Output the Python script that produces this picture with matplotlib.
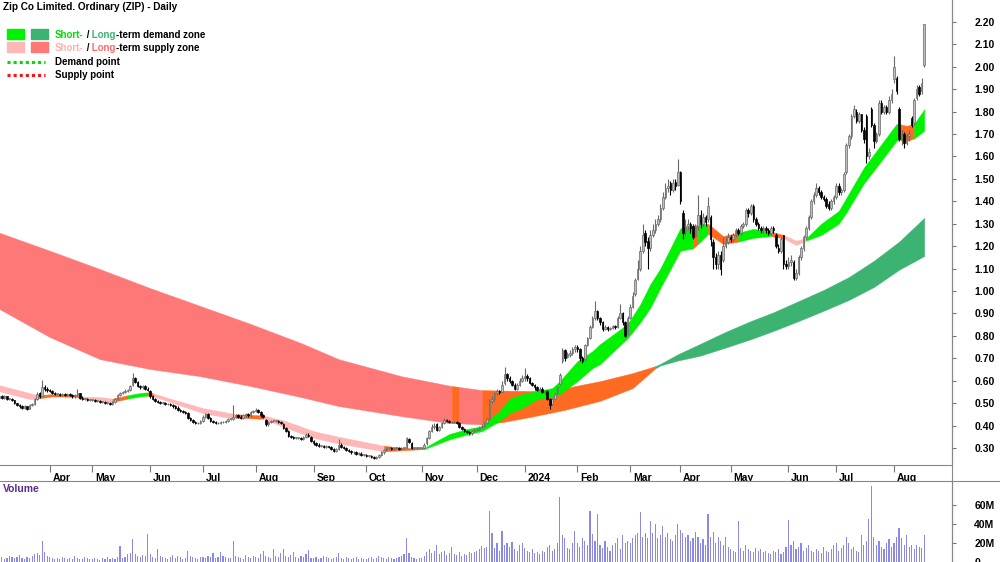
import numpy as np
import pandas as pd
import matplotlib
matplotlib.use('Agg')
import matplotlib.pyplot as plt
import matplotlib.transforms as mtransforms
from matplotlib.patches import Rectangle
from matplotlib.lines import Line2D

plt.rcParams['font.family'] = ['Liberation Sans', 'DejaVu Sans']
plt.rcParams['font.weight'] = 'bold'

# ASX trading days shown on the chart
holidays = ['2023-04-07', '2023-04-10', '2023-04-25', '2023-06-12', '2023-12-25', '2023-12-26',
            '2024-01-01', '2024-01-26', '2024-03-29', '2024-04-01', '2024-04-25', '2024-06-10']
dates = pd.bdate_range('2023-03-06', '2024-08-19', freq='C', holidays=holidays)

# daily prices, one row per month (Mar 2023 ... Aug 2024)
opens = [
    0.525, 0.530, 0.525, 0.530, 0.520, 0.520, 0.515, 0.500, 0.490, 0.485, 0.480, 0.485, 0.475, 0.490, 0.495, 0.520, 0.545, 0.530, 0.570, 0.565,
    0.560, 0.555, 0.545, 0.540, 0.540, 0.535, 0.540, 0.535, 0.540, 0.535, 0.530, 0.535, 0.545, 0.525, 0.520, 0.520, 0.515,
    0.515, 0.515, 0.510, 0.510, 0.505, 0.505, 0.500, 0.500, 0.495, 0.505, 0.520, 0.535, 0.545, 0.550, 0.555, 0.560, 0.580, 0.610, 0.595, 0.575, 0.570, 0.575, 0.565,
    0.555, 0.530, 0.520, 0.510, 0.505, 0.500, 0.500, 0.495, 0.495, 0.490, 0.485, 0.480, 0.470, 0.465, 0.460, 0.455, 0.435, 0.425, 0.415, 0.410, 0.410,
    0.420, 0.440, 0.450, 0.435, 0.420, 0.415, 0.410, 0.410, 0.415, 0.415, 0.420, 0.430, 0.430, 0.440, 0.445, 0.440, 0.435, 0.445, 0.450, 0.445, 0.460,
    0.465, 0.470, 0.460, 0.445, 0.425, 0.405, 0.415, 0.420, 0.420, 0.420, 0.415, 0.405, 0.390, 0.375, 0.355, 0.350, 0.345, 0.345, 0.345, 0.340, 0.350, 0.360, 0.350,
    0.330, 0.320, 0.315, 0.310, 0.310, 0.305, 0.310, 0.305, 0.295, 0.285, 0.295, 0.315, 0.305, 0.300, 0.290, 0.285, 0.280, 0.280, 0.275, 0.275, 0.270,
    0.270, 0.265, 0.265, 0.260, 0.255, 0.260, 0.270, 0.280, 0.290, 0.300, 0.300, 0.295, 0.300, 0.300, 0.295, 0.300, 0.300, 0.340, 0.320, 0.300, 0.300, 0.300,
    0.300, 0.300, 0.320, 0.345, 0.375, 0.395, 0.405, 0.380, 0.395, 0.410, 0.425, 0.420, 0.415, 0.415, 0.415, 0.410, 0.395, 0.385, 0.375, 0.370, 0.365, 0.375,
    0.380, 0.385, 0.395, 0.400, 0.410, 0.430, 0.510, 0.520, 0.545, 0.555, 0.550, 0.590, 0.630, 0.610, 0.600, 0.580, 0.565, 0.580, 0.600,
    0.610, 0.620, 0.610, 0.590, 0.580, 0.570, 0.560, 0.565, 0.550, 0.555, 0.520, 0.495, 0.520, 0.545, 0.585, 0.690, 0.735, 0.705, 0.715, 0.725, 0.740,
    0.750, 0.740, 0.700, 0.695, 0.760, 0.790, 0.840, 0.880, 0.910, 0.880, 0.860, 0.830, 0.840, 0.830, 0.835, 0.845, 0.840, 0.880, 0.900, 0.860, 0.810,
    0.880, 0.930, 0.985, 1.055, 1.100, 1.180, 1.260, 1.225, 1.190, 1.250, 1.270, 1.300, 1.320, 1.370, 1.420, 1.460, 1.480, 1.450, 1.485, 1.475,
    1.530, 1.350, 1.265, 1.290, 1.300, 1.290, 1.245, 1.290, 1.340, 1.300, 1.330, 1.320, 1.330, 1.220, 1.150, 1.120, 1.160, 1.140, 1.200, 1.220,
    1.240, 1.230, 1.250, 1.270, 1.260, 1.290, 1.300, 1.360, 1.350, 1.380, 1.320, 1.300, 1.280, 1.270, 1.280, 1.270, 1.260, 1.280, 1.250, 1.190, 1.180, 1.250, 1.120,
    1.110, 1.130, 1.130, 1.060, 1.080, 1.150, 1.190, 1.240, 1.280, 1.330, 1.400, 1.430, 1.460, 1.440, 1.420, 1.410, 1.390, 1.370, 1.400,
    1.420, 1.470, 1.440, 1.450, 1.530, 1.650, 1.690, 1.780, 1.800, 1.760, 1.790, 1.720, 1.780, 1.600, 1.810, 1.740, 1.670, 1.700, 1.840, 1.800, 1.820, 1.800, 1.850,
    1.945, 1.950, 1.810, 1.680, 1.700, 1.660, 1.690, 1.770, 1.750, 1.860, 1.910, 1.890, 2.010,
]
highs = [
    0.535, 0.535, 0.535, 0.530, 0.525, 0.525, 0.515, 0.500, 0.495, 0.490, 0.490, 0.485, 0.495, 0.500, 0.525, 0.550, 0.550, 0.605, 0.580, 0.570,
    0.565, 0.560, 0.550, 0.545, 0.545, 0.545, 0.545, 0.545, 0.545, 0.540, 0.540, 0.565, 0.545, 0.530, 0.525, 0.525, 0.520,
    0.520, 0.520, 0.515, 0.515, 0.510, 0.510, 0.505, 0.505, 0.510, 0.525, 0.540, 0.550, 0.555, 0.565, 0.565, 0.580, 0.635, 0.615, 0.600, 0.580, 0.580, 0.580, 0.570,
    0.560, 0.535, 0.525, 0.515, 0.510, 0.505, 0.505, 0.500, 0.500, 0.495, 0.490, 0.485, 0.475, 0.470, 0.465, 0.460, 0.440, 0.430, 0.420, 0.415, 0.425,
    0.445, 0.455, 0.455, 0.440, 0.425, 0.420, 0.415, 0.420, 0.420, 0.425, 0.435, 0.435, 0.490, 0.450, 0.450, 0.445, 0.450, 0.455, 0.455, 0.465, 0.470,
    0.480, 0.475, 0.465, 0.450, 0.430, 0.420, 0.425, 0.425, 0.425, 0.425, 0.420, 0.410, 0.395, 0.380, 0.360, 0.355, 0.350, 0.350, 0.350, 0.355, 0.365, 0.365, 0.355,
    0.335, 0.325, 0.320, 0.315, 0.315, 0.315, 0.310, 0.310, 0.300, 0.300, 0.340, 0.320, 0.310, 0.305, 0.295, 0.290, 0.285, 0.285, 0.280, 0.280, 0.275,
    0.275, 0.270, 0.270, 0.265, 0.265, 0.275, 0.285, 0.295, 0.305, 0.305, 0.305, 0.305, 0.305, 0.305, 0.305, 0.305, 0.350, 0.345, 0.325, 0.305, 0.305, 0.305,
    0.305, 0.320, 0.350, 0.380, 0.405, 0.410, 0.410, 0.400, 0.415, 0.435, 0.430, 0.425, 0.420, 0.420, 0.420, 0.415, 0.400, 0.390, 0.380, 0.375, 0.380, 0.390,
    0.390, 0.400, 0.405, 0.415, 0.435, 0.520, 0.530, 0.550, 0.565, 0.560, 0.600, 0.660, 0.635, 0.620, 0.605, 0.590, 0.590, 0.610, 0.625,
    0.655, 0.630, 0.615, 0.595, 0.585, 0.575, 0.570, 0.570, 0.560, 0.560, 0.525, 0.525, 0.545, 0.575, 0.635, 0.745, 0.740, 0.730, 0.735, 0.750, 0.760,
    0.760, 0.745, 0.710, 0.765, 0.795, 0.850, 0.890, 0.955, 0.915, 0.885, 0.865, 0.850, 0.845, 0.840, 0.850, 0.850, 0.890, 0.940, 0.905, 0.865, 0.890,
    0.940, 0.995, 1.060, 1.140, 1.200, 1.300, 1.270, 1.240, 1.270, 1.300, 1.320, 1.340, 1.390, 1.440, 1.480, 1.500, 1.490, 1.500, 1.500, 1.590,
    1.535, 1.360, 1.320, 1.320, 1.310, 1.300, 1.300, 1.430, 1.360, 1.350, 1.340, 1.420, 1.340, 1.230, 1.170, 1.180, 1.180, 1.240, 1.240, 1.260,
    1.250, 1.260, 1.280, 1.280, 1.300, 1.310, 1.370, 1.370, 1.390, 1.390, 1.330, 1.310, 1.290, 1.290, 1.290, 1.280, 1.290, 1.290, 1.260, 1.210, 1.240, 1.250, 1.140,
    1.150, 1.160, 1.140, 1.100, 1.160, 1.200, 1.250, 1.290, 1.340, 1.410, 1.440, 1.480, 1.470, 1.450, 1.430, 1.420, 1.400, 1.410, 1.430,
    1.480, 1.480, 1.460, 1.530, 1.660, 1.700, 1.790, 1.830, 1.810, 1.800, 1.790, 1.730, 1.790, 1.640, 1.820, 1.750, 1.710, 1.850, 1.850, 1.830, 1.830, 1.870, 1.900,
    2.050, 1.960, 1.820, 1.720, 1.710, 1.700, 1.720, 1.780, 1.860, 1.920, 1.920, 1.950, 2.190,
]
lows = [
    0.520, 0.520, 0.520, 0.515, 0.515, 0.510, 0.495, 0.485, 0.480, 0.475, 0.475, 0.470, 0.475, 0.485, 0.490, 0.515, 0.525, 0.530, 0.555, 0.550,
    0.550, 0.540, 0.535, 0.535, 0.530, 0.530, 0.530, 0.530, 0.530, 0.525, 0.525, 0.530, 0.520, 0.515, 0.515, 0.510, 0.510,
    0.510, 0.505, 0.505, 0.500, 0.500, 0.495, 0.495, 0.490, 0.490, 0.500, 0.515, 0.530, 0.540, 0.545, 0.550, 0.555, 0.575, 0.590, 0.570, 0.565, 0.565, 0.560, 0.555,
    0.525, 0.515, 0.505, 0.500, 0.495, 0.495, 0.490, 0.490, 0.485, 0.480, 0.475, 0.465, 0.460, 0.455, 0.450, 0.430, 0.420, 0.410, 0.405, 0.405, 0.405,
    0.415, 0.435, 0.430, 0.415, 0.410, 0.405, 0.405, 0.405, 0.410, 0.410, 0.415, 0.425, 0.425, 0.435, 0.435, 0.430, 0.430, 0.440, 0.440, 0.440, 0.455,
    0.460, 0.455, 0.440, 0.435, 0.400, 0.400, 0.410, 0.415, 0.415, 0.410, 0.405, 0.385, 0.370, 0.350, 0.345, 0.340, 0.340, 0.340, 0.335, 0.335, 0.345, 0.350, 0.325,
    0.315, 0.310, 0.305, 0.305, 0.300, 0.300, 0.300, 0.290, 0.280, 0.280, 0.290, 0.300, 0.295, 0.285, 0.280, 0.275, 0.275, 0.270, 0.270, 0.265, 0.265,
    0.260, 0.260, 0.255, 0.250, 0.250, 0.255, 0.265, 0.275, 0.285, 0.295, 0.290, 0.290, 0.295, 0.290, 0.290, 0.295, 0.300, 0.320, 0.295, 0.295, 0.295, 0.295,
    0.295, 0.295, 0.315, 0.340, 0.370, 0.385, 0.375, 0.375, 0.390, 0.405, 0.415, 0.410, 0.410, 0.410, 0.405, 0.390, 0.380, 0.370, 0.365, 0.360, 0.360, 0.370,
    0.375, 0.380, 0.390, 0.395, 0.405, 0.425, 0.500, 0.510, 0.535, 0.540, 0.545, 0.580, 0.600, 0.590, 0.575, 0.560, 0.560, 0.575, 0.595,
    0.600, 0.600, 0.585, 0.575, 0.560, 0.555, 0.555, 0.545, 0.540, 0.515, 0.475, 0.490, 0.515, 0.540, 0.580, 0.680, 0.690, 0.700, 0.705, 0.715, 0.730,
    0.730, 0.690, 0.680, 0.690, 0.755, 0.785, 0.835, 0.870, 0.870, 0.850, 0.820, 0.825, 0.820, 0.825, 0.830, 0.830, 0.835, 0.875, 0.850, 0.795, 0.805,
    0.875, 0.925, 0.980, 1.050, 1.090, 1.170, 1.200, 1.100, 1.180, 1.240, 1.260, 1.290, 1.310, 1.360, 1.410, 1.440, 1.430, 1.440, 1.450, 1.470,
    1.390, 1.230, 1.250, 1.270, 1.260, 1.230, 1.240, 1.270, 1.280, 1.290, 1.290, 1.310, 1.200, 1.100, 1.100, 1.100, 1.070, 1.130, 1.190, 1.210,
    1.220, 1.220, 1.240, 1.250, 1.250, 1.280, 1.290, 1.330, 1.340, 1.310, 1.290, 1.270, 1.260, 1.260, 1.260, 1.250, 1.250, 1.260, 1.190, 1.170, 1.170, 1.100, 1.100,
    1.100, 1.110, 1.050, 1.050, 1.070, 1.140, 1.180, 1.230, 1.270, 1.320, 1.390, 1.420, 1.430, 1.410, 1.400, 1.370, 1.360, 1.360, 1.390,
    1.410, 1.430, 1.430, 1.440, 1.520, 1.640, 1.680, 1.770, 1.750, 1.750, 1.710, 1.660, 1.570, 1.590, 1.730, 1.640, 1.660, 1.690, 1.790, 1.790, 1.790, 1.790, 1.840,
    1.930, 1.880, 1.670, 1.650, 1.640, 1.650, 1.670, 1.730, 1.740, 1.850, 1.870, 1.880, 2.000,
]
closes = [
    0.530, 0.525, 0.530, 0.520, 0.520, 0.515, 0.500, 0.490, 0.485, 0.480, 0.485, 0.475, 0.490, 0.495, 0.520, 0.540, 0.530, 0.570, 0.565, 0.560,
    0.555, 0.545, 0.540, 0.540, 0.535, 0.540, 0.535, 0.540, 0.535, 0.530, 0.535, 0.545, 0.525, 0.520, 0.520, 0.515, 0.515,
    0.515, 0.510, 0.510, 0.505, 0.505, 0.500, 0.500, 0.495, 0.505, 0.520, 0.535, 0.545, 0.550, 0.555, 0.560, 0.575, 0.610, 0.595, 0.575, 0.570, 0.575, 0.565, 0.560,
    0.530, 0.520, 0.510, 0.505, 0.500, 0.500, 0.495, 0.495, 0.490, 0.485, 0.480, 0.470, 0.465, 0.460, 0.455, 0.435, 0.425, 0.415, 0.410, 0.410, 0.420,
    0.440, 0.450, 0.435, 0.420, 0.415, 0.410, 0.410, 0.415, 0.415, 0.420, 0.430, 0.430, 0.440, 0.445, 0.440, 0.435, 0.445, 0.450, 0.445, 0.460, 0.465,
    0.470, 0.460, 0.445, 0.440, 0.405, 0.415, 0.420, 0.420, 0.420, 0.415, 0.410, 0.390, 0.375, 0.355, 0.350, 0.345, 0.345, 0.345, 0.340, 0.350, 0.360, 0.355, 0.330,
    0.320, 0.315, 0.310, 0.310, 0.305, 0.310, 0.305, 0.295, 0.285, 0.295, 0.315, 0.305, 0.300, 0.290, 0.285, 0.280, 0.280, 0.275, 0.275, 0.270, 0.270,
    0.265, 0.265, 0.260, 0.255, 0.260, 0.270, 0.280, 0.290, 0.300, 0.300, 0.295, 0.300, 0.300, 0.295, 0.300, 0.300, 0.345, 0.325, 0.300, 0.300, 0.300, 0.300,
    0.300, 0.315, 0.345, 0.375, 0.395, 0.400, 0.380, 0.395, 0.410, 0.425, 0.420, 0.415, 0.415, 0.415, 0.410, 0.395, 0.385, 0.375, 0.370, 0.365, 0.375, 0.380,
    0.385, 0.395, 0.400, 0.410, 0.430, 0.510, 0.520, 0.545, 0.555, 0.550, 0.580, 0.630, 0.610, 0.600, 0.580, 0.565, 0.580, 0.600, 0.610,
    0.620, 0.610, 0.590, 0.580, 0.570, 0.560, 0.565, 0.550, 0.555, 0.520, 0.490, 0.520, 0.540, 0.570, 0.625, 0.735, 0.700, 0.720, 0.725, 0.740, 0.750,
    0.740, 0.700, 0.690, 0.760, 0.790, 0.840, 0.880, 0.910, 0.880, 0.860, 0.830, 0.840, 0.830, 0.835, 0.845, 0.840, 0.880, 0.900, 0.860, 0.800, 0.880,
    0.930, 0.980, 1.050, 1.100, 1.180, 1.250, 1.220, 1.190, 1.250, 1.270, 1.300, 1.320, 1.370, 1.420, 1.460, 1.470, 1.450, 1.480, 1.470, 1.530,
    1.400, 1.260, 1.290, 1.300, 1.280, 1.240, 1.290, 1.340, 1.300, 1.330, 1.310, 1.380, 1.230, 1.150, 1.120, 1.160, 1.100, 1.200, 1.220, 1.240,
    1.230, 1.250, 1.270, 1.260, 1.290, 1.300, 1.360, 1.350, 1.380, 1.320, 1.300, 1.280, 1.270, 1.280, 1.270, 1.260, 1.280, 1.270, 1.200, 1.180, 1.230, 1.120, 1.110,
    1.130, 1.140, 1.060, 1.080, 1.150, 1.190, 1.240, 1.280, 1.330, 1.400, 1.430, 1.460, 1.440, 1.420, 1.410, 1.380, 1.370, 1.400, 1.420,
    1.470, 1.440, 1.450, 1.520, 1.650, 1.690, 1.780, 1.810, 1.760, 1.790, 1.720, 1.680, 1.600, 1.620, 1.740, 1.670, 1.700, 1.840, 1.800, 1.820, 1.800, 1.850, 1.880,
    2.000, 1.890, 1.680, 1.700, 1.660, 1.690, 1.700, 1.740, 1.850, 1.900, 1.880, 1.930, 2.190,
]
# daily volume, millions
volume_m = [
    4, 5, 3, 4, 6, 5, 4, 5, 7, 4, 3, 5, 4, 6, 8, 9, 7, 22, 10, 6,
    5, 4, 3, 4, 3, 5, 4, 3, 4, 3, 6, 4, 3, 3, 5, 4, 3,
    3, 4, 3, 2, 4, 3, 5, 3, 4, 3, 5, 17, 4, 5, 8, 9, 24, 8, 6, 5, 7, 6, 29,
    8, 5, 4, 14, 6, 5, 4, 3, 5, 7, 4, 6, 5, 3, 4, 12, 6, 5, 4, 3, 5,
    5, 4, 6, 5, 9, 4, 5, 10, 6, 5, 4, 4, 22, 6, 5, 4, 3, 7, 5, 4, 6,
    5, 4, 8, 12, 6, 5, 4, 14, 6, 5, 9, 14, 6, 5, 7, 10, 5, 4, 6, 5, 8, 13, 4,
    4, 5, 3, 4, 6, 5, 4, 3, 4, 5, 9, 4, 3, 5, 4, 3, 4, 5, 3, 4, 3,
    3, 4, 5, 3, 4, 6, 5, 4, 3, 5, 4, 3, 4, 5, 6, 8, 25, 9, 5, 4, 3, 4,
    4, 6, 10, 14, 9, 12, 18, 8, 10, 12, 7, 9, 16, 8, 7, 10, 6, 8, 7, 11, 9, 10,
    12, 14, 17, 15, 16, 54, 30, 15, 20, 12, 33, 18, 20, 16, 21, 14, 12, 18, 20,
    15, 12, 10, 14, 9, 11, 8, 12, 10, 16, 18, 12, 14, 20, 68, 28, 25, 15, 14, 20, 33,
    20, 16, 25, 22, 18, 54, 29, 22, 50, 18, 15, 22, 16, 12, 18, 20, 25, 14, 28, 20, 22,
    20, 25, 28, 30, 52, 26, 30, 25, 43, 30, 40, 25, 28, 38, 26, 30, 24, 22, 28, 40,
    34, 30, 26, 28, 22, 25, 32, 26, 20, 24, 18, 50, 26, 32, 20, 26, 22, 18, 26, 16,
    14, 12, 10, 43, 15, 12, 18, 14, 12, 10, 15, 12, 14, 10, 12, 9, 8, 12, 10, 14, 8, 10, 16,
    44, 18, 22, 14, 16, 20, 12, 15, 18, 12, 10, 14, 12, 9, 16, 12, 10, 14, 18,
    20, 12, 15, 18, 26, 20, 14, 16, 12, 10, 28, 18, 22, 45, 80, 26, 18, 22, 16, 14, 20, 24, 16,
    20, 26, 36, 25, 18, 28, 16, 18, 14, 18, 16, 15, 28,
]

# long-term zone (sampled at bar numbers)
lt_idx = [0, 20, 40, 60, 80, 100, 120, 135, 160, 180, 183, 192, 200, 212, 225, 239, 252, 261, 263, 270,
          279, 289, 299, 308, 318, 328, 338, 348, 358, 368]
lt_top = [1.26, 1.18, 1.098, 1.013, 0.933, 0.853, 0.768, 0.696, 0.62, 0.576, 0.572, 0.558, 0.556, 0.554, 0.567, 0.598, 0.634, 0.665, 0.675, 0.718,
          0.765, 0.818, 0.866, 0.905, 0.955, 1.005, 1.062, 1.135, 1.220, 1.326]
lt_bot = [0.92, 0.795, 0.696, 0.652, 0.62, 0.576, 0.527, 0.487, 0.442, 0.41, 0.41, 0.405, 0.415, 0.44, 0.47, 0.51, 0.567, 0.655, 0.668, 0.690,
          0.712, 0.748, 0.785, 0.822, 0.866, 0.912, 0.960, 1.018, 1.095, 1.156]
lt_state = ['S'] * 9 + ['N', 'S'] + ['N'] * 6 + ['D'] * 12

# short-term zone
st_idx = [0, 12, 15, 21, 31, 32, 40, 45, 51, 56, 59, 61, 68, 81, 92, 94, 105, 114, 125, 135,
          153, 161, 169, 179, 186, 192, 199, 203, 208, 214, 220, 223, 230, 236, 239, 250, 255, 259, 263, 271,
          276, 278, 282, 288, 294, 300, 307, 312, 317, 321, 327, 334, 337, 344, 350, 357, 358, 361, 364, 368]
st_top = [0.580, 0.545, 0.535, 0.540, 0.535, 0.530, 0.527, 0.520, 0.535, 0.545, 0.548, 0.545, 0.520, 0.478, 0.455, 0.450, 0.445, 0.420, 0.375, 0.350,
          0.310, 0.300, 0.300, 0.362, 0.384, 0.397, 0.464, 0.520, 0.540, 0.554, 0.567, 0.598, 0.687, 0.732, 0.763, 0.853, 0.940, 1.030, 1.100, 1.280,
          1.290, 1.295, 1.300, 1.245, 1.260, 1.277, 1.265, 1.250, 1.225, 1.235, 1.300, 1.357, 1.415, 1.550, 1.640, 1.745, 1.745, 1.737, 1.745, 1.810]
st_bot = [0.553, 0.518, 0.520, 0.530, 0.528, 0.518, 0.510, 0.505, 0.520, 0.530, 0.533, 0.530, 0.505, 0.455, 0.433, 0.435, 0.430, 0.390, 0.345, 0.320,
          0.285, 0.290, 0.295, 0.338, 0.360, 0.375, 0.420, 0.455, 0.478, 0.517, 0.530, 0.540, 0.598, 0.656, 0.674, 0.790, 0.860, 0.925, 1.013, 1.180,
          1.190, 1.210, 1.255, 1.210, 1.220, 1.237, 1.245, 1.235, 1.205, 1.225, 1.250, 1.300, 1.350, 1.480, 1.567, 1.670, 1.675, 1.670, 1.680, 1.715]
st_state = list('SSNNNSSNDD' 'NSSSSNSSSS' 'NNDDDDDDDD' 'DDDDDDDDDD' 'NDNNDDNSSD' 'DDDDDDNND')

colors_short = {'S': '#FFB8B8', 'D': '#00F200', 'N': '#FF6A22'}
colors_long = {'S': '#FF7878', 'D': '#3CB371', 'N': '#FF6A22'}

o = np.array(opens)
h = np.array(highs)
l = np.array(lows)
c = np.array(closes)
x = np.arange(len(c))

fig = plt.figure(figsize=(10, 5.62), dpi=100)
ax = fig.add_axes([0, 1 - 465 / 562, 0.952, 465 / 562])
axv = fig.add_axes([0, 0, 0.952, 81 / 562])


def draw_zone(idx, top, bot, state, cmap):
    k = 0
    while k < len(state):
        j = k
        while j + 1 < len(state) and state[j + 1] == state[k]:
            j += 1
        ax.fill_between(idx[k:j + 2], top[k:j + 2], bot[k:j + 2], color=cmap[state[k]],
                        lw=0.3, edgecolor=cmap[state[k]], zorder=1)
        k = j + 1


draw_zone(lt_idx, lt_top, lt_bot, lt_state, colors_long)
draw_zone(st_idx, st_top, st_bot, st_state, colors_short)

# candles
up = c >= o
wick_col = np.where(up, '#6A6A6A', '#000000')
ax.vlines(x, l, h, colors=wick_col, lw=0.8, zorder=3)
body_lo = np.minimum(o, c)
body_h = np.maximum(np.abs(c - o), 0.003)
ax.bar(x[up], body_h[up], bottom=body_lo[up], width=0.62, color='#BDBDBD', edgecolor='#6A6A6A', lw=0.5, zorder=4)
ax.bar(x[~up], body_h[~up], bottom=body_lo[~up], width=0.62, color='#000000', edgecolor='#000000', lw=0.5, zorder=4)

ax.set_xlim(0.24, 379.07)
ax.set_ylim(0.224, 2.298)
ax.yaxis.tick_right()
ax.set_yticks(np.arange(0.3, 2.21, 0.1))
ax.set_yticklabels([f'{v:.2f}' for v in np.arange(0.3, 2.21, 0.1)])
ax.tick_params(axis='y', length=3, pad=13, labelsize=7.5, color='#777777')

month_idx = [i for i in range(1, len(dates)) if dates[i].month != dates[i - 1].month]
month_lab = ['2024' if dates[i].month == 1 else dates[i].strftime('%b') for i in month_idx]
ax.set_xticks(month_idx)
ax.set_xticklabels(month_lab)
ax.tick_params(axis='x', length=5, pad=1, labelsize=7.5, color='#777777')
offset = mtransforms.ScaledTranslation(2 / 72, 0, fig.dpi_scale_trans)
for lab in ax.get_xticklabels():
    lab.set_horizontalalignment('left')
    lab.set_transform(lab.get_transform() + offset)

for s in ['left', 'top']:
    ax.spines[s].set_visible(False)
ax.spines['right'].set_color('#888888')
ax.spines['bottom'].set_color('#888888')

# volume
axv.bar(x, np.array(volume_m) * 1e6, width=0.45, color='#8A8AE6', zorder=2)
axv.set_xlim(0.24, 379.07)
axv.set_ylim(0, 85e6)
axv.yaxis.tick_right()
axv.set_yticks([0, 20e6, 40e6, 60e6])
axv.set_yticklabels(['0', '20M', '40M', '60M'])
axv.tick_params(axis='y', length=3, pad=13, labelsize=7.5, color='#777777')
axv.set_xticks([])
for s in ['left', 'bottom']:
    axv.spines[s].set_visible(False)
axv.spines['right'].set_color('#888888')
axv.spines['top'].set_visible(False)
axv.text(0.003, 0.90, 'Volume', transform=axv.transAxes, color='#5B2C91', fontsize=7.5, va='center')

# frame lines
fig.add_artist(Line2D([0, 1], [1 - 481 / 562] * 2, color='#888888', lw=0.8))
fig.add_artist(Line2D([0.952, 0.952], [0, 1], color='#888888', lw=0.8))

# title and legend
fig.text(0.003, 1 - 7 / 562, 'Zip Co Limited. Ordinary (ZIP) - Daily', fontsize=7.2, va='center')


def fx(px):
    return px / 1000


def fy(py):
    return 1 - py / 562


fig.add_artist(Rectangle((fx(7), fy(39)), 17 / 1000, 9.5 / 562, color='#00F200'))
fig.add_artist(Rectangle((fx(31), fy(39)), 17 / 1000, 9.5 / 562, color='#3CB371'))
fig.add_artist(Rectangle((fx(7), fy(52)), 17 / 1000, 9.5 / 562, color='#FFB8B8'))
fig.add_artist(Rectangle((fx(31), fy(52)), 17 / 1000, 9.5 / 562, color='#FF7878'))
fig.add_artist(Line2D([fx(7), fx(45)], [fy(62)] * 2, color='#00DD00', lw=2.2, ls=(0, (1, 1))))
fig.add_artist(Line2D([fx(7), fx(45)], [fy(74.5)] * 2, color='#FF1010', lw=2.2, ls=(0, (1, 1))))

renderer = fig.canvas.get_renderer()


def multi_text(x0, y0, parts):
    for s, col in parts:
        t = fig.text(x0, y0, s, color=col, fontsize=7, va='center')
        bb = t.get_window_extent(renderer=renderer)
        x0 += bb.width / fig.bbox.width


multi_text(fx(55), fy(35), [('Short-', '#00E000'), (' /', 'black'), (' Long', '#3CB371'), ('-term demand zone', 'black')])
multi_text(fx(55), fy(48), [('Short-', '#FFB0B0'), (' /', 'black'), (' Long', '#FF6B6B'), ('-term supply zone', 'black')])
fig.text(fx(55), fy(62), 'Demand point', fontsize=7, va='center')
fig.text(fx(55), fy(74.5), 'Supply point', fontsize=7, va='center')

fig.savefig('out.png', dpi=100)
